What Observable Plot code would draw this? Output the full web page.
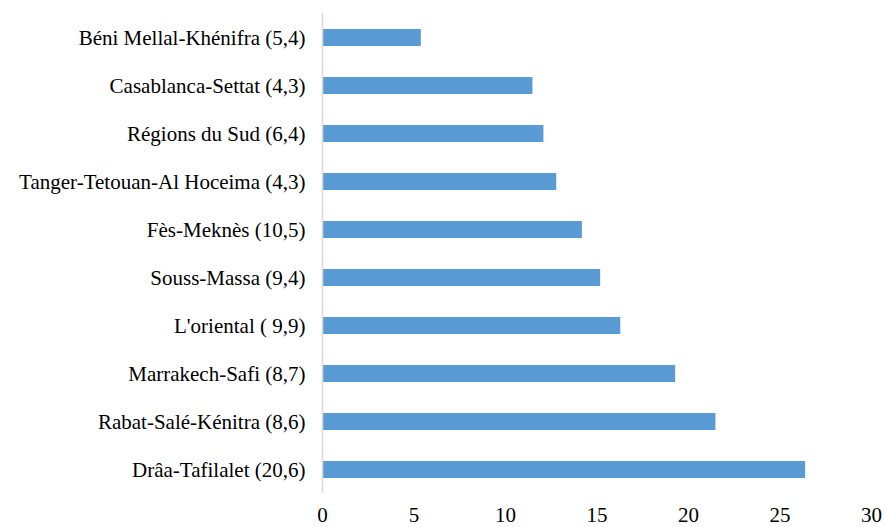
<!DOCTYPE html>
<html>
<head>
<meta charset="utf-8">
<script src="https://cdn.jsdelivr.net/npm/d3@7"></script>
<script src="https://cdn.jsdelivr.net/npm/@observablehq/plot@0.6"></script>
<style>
  html, body { margin: 0; padding: 0; background: #fff; overflow: hidden; }
  #chart svg { display: block; }
</style>
</head>
<body>
<div id="chart"></div>
<script>
const regions = [
  "Béni Mellal-Khénifra (5,4)",
  "Casablanca-Settat (4,3)",
  "Régions du Sud (6,4)",
  "Tanger-Tetouan-Al Hoceima (4,3)",
  "Fès-Meknès (10,5)",
  "Souss-Massa (9,4)",
  "L'oriental ( 9,9)",
  "Marrakech-Safi (8,7)",
  "Rabat-Salé-Kénitra (8,6)",
  "Drâa-Tafilalet (20,6)"
];
const values = [5.4, 11.5, 12.1, 12.8, 14.2, 15.2, 16.3, 19.3, 21.5, 26.4];
const xTicks = [0, 5, 10, 15, 20, 25, 30];

const data = regions.map((r, i) => ({region: r, value: values[i]}));
const FONT = "Liberation Serif, DejaVu Serif, Times New Roman, serif";

const chart = Plot.plot({
  width: 887,
  height: 527,
  marginTop: 13,
  marginBottom: 34,
  marginLeft: 322,
  marginRight: 16,
  style: {background: "#fff"},
  x: {domain: [0, 30], ticks: xTicks, tickSize: 0, tickPadding: 14, label: null},
  y: {domain: regions, paddingInner: 0.65, paddingOuter: 0.325, tickSize: 0, tickPadding: 17, label: null},
  marks: [
    Plot.barX(data, {x: "value", y: "region", fill: "#5b9bd5"}),
    Plot.ruleX([0], {stroke: "#d9d9d9", strokeWidth: 1.5})
  ]
});
d3.select(chart).attr("font-family", FONT).attr("font-size", 21)
  .style("font-family", FONT).style("font-size", "21px");
d3.select(chart).selectAll("g[aria-label$='axis'], g[aria-label$='tick label']")
  .attr("font-family", FONT).attr("font-size", 21);
d3.select(chart).selectAll("text")
  .attr("font-family", FONT).attr("font-size", 21).attr("fill", "#000");
document.getElementById("chart").appendChild(chart);
</script>
</body>
</html>
